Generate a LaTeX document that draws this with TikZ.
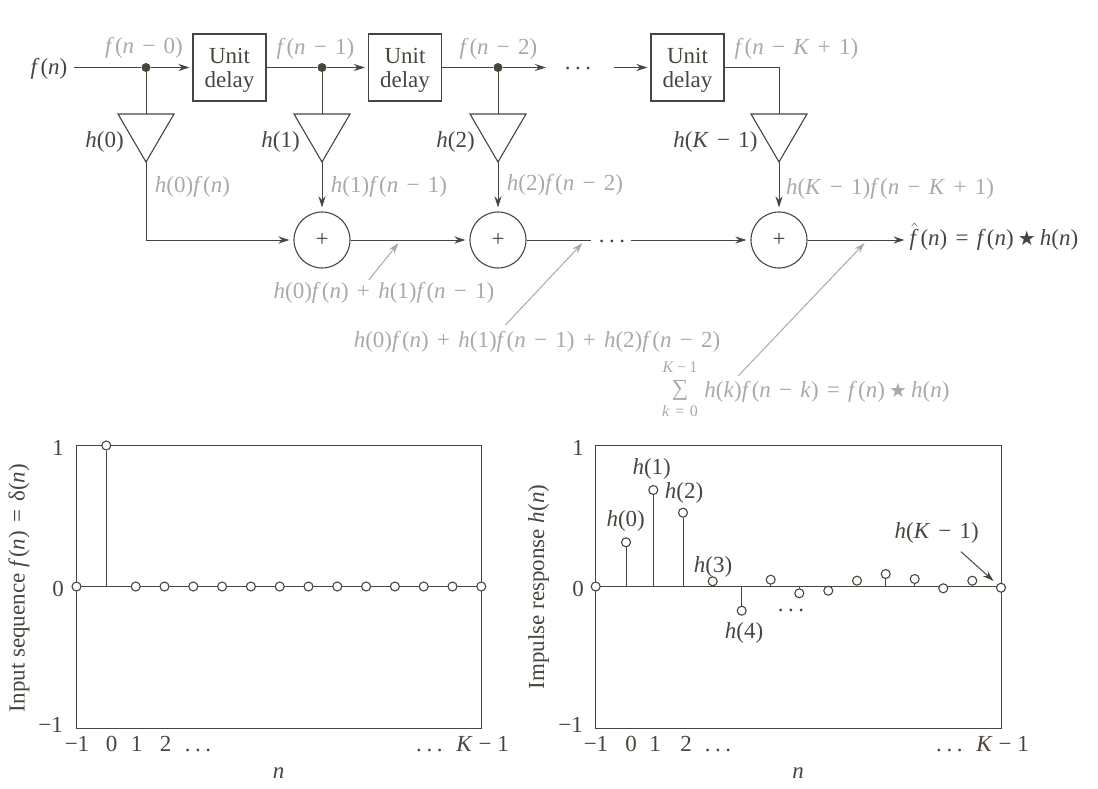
\documentclass[tikz,border=0pt]{standalone}
\usepackage{fontspec}
\setmainfont{Liberation Serif}
\newfontfamily\starfont{DejaVu Sans}
\usetikzlibrary{arrows.meta}
\definecolor{inkdark}{HTML}{4A443E}
\definecolor{inkgray}{HTML}{ABA9A5}
\newcommand{\vh}{\textit{h}}
\newcommand{\vf}{\textit{f}\kern.04em}
\newcommand{\vn}{\textit{n}}
\newcommand{\vK}{\textit{K}}
\newcommand{\vk}{\textit{k}}
\newcommand{\mns}{\kern.36em−\kern.36em}
\newcommand{\pls}{\kern.36em+\kern.36em}
\newcommand{\eqs}{\kern.36em=\kern.36em}
\newcommand{\tdots}{.\hspace{.2em}.\hspace{.2em}.}
\newcommand{\conv}{\kern.18em{\starfont\fontsize{20}{20}\selectfont ★}\kern.18em}
\newcommand{\unitdelay}{\rule{0pt}{20pt}Unit\\delay}
\tikzset{
	txt/.style={inner sep=0pt,text=inkdark,text height=19pt,text depth=4pt},
	graytxt/.style={inner sep=0pt,text=inkgray,text height=19pt,text depth=4pt},
	smalltxt/.style={inner sep=0pt,text=inkgray,font=\fontsize{16}{17}\selectfont},
	wire/.style={draw=inkdark,line width=1pt},
	flow/.style={wire,->},
	note/.style={draw=inkgray,line width=1pt,->},
	delaybox/.style={draw=inkdark,line width=1.1pt,minimum width=73pt,minimum height=67pt,inner sep=0pt,align=center,text=inkdark},
	junction/.style={circle,fill=inkdark,inner sep=0pt,minimum size=9pt},
	adder/.style={circle,draw=inkdark,line width=1.1pt,inner sep=0pt,minimum size=56pt,text=inkdark},
	sample/.style={circle,draw=inkdark,fill=white,line width=1.1pt,inner sep=0pt,minimum size=9pt},
}
\newcommand{\drawgain}[3]{
	% #1 name, #2 centre x, #3 half width
	\coordinate (#1t) at (#2,114);
	\coordinate (#1a) at (#2,162);
	\draw[wire,line width=1.1pt,line join=miter] (#2-#3,114) -- (#2+#3,114) -- (#1a) -- cycle;
}
\begin{document}
\begin{tikzpicture}[x=1pt,y=-1pt,>={Stealth[length=11pt,width=7pt]},font=\fontsize{23}{24}\selectfont]
	\useasboundingbox (0,0) rectangle (1098,789);
	% Top row
	\node[txt] (fin) at (49,67.5) {\vf(\vn)};
	\node[junction] (j1) at (146,67.5) {};
	\node[delaybox] (d1) at (229.5,67.5) {\unitdelay};
	\node[junction] (j2) at (322,67.5) {};
	\node[delaybox] (d2) at (405,67.5) {\unitdelay};
	\node[junction] (j3) at (498,67.5) {};
	\node[txt] (topdots) at (578,62) {\tdots};
	\node[delaybox] (d3) at (687.5,67.5) {\unitdelay};
	\coordinate (topa) at (546,67.5);
	\coordinate (topb) at (614,67.5);
	\coordinate (topc) at (779,67.5);
	% Gains
	\drawgain{g1}{146}{28}
	\drawgain{g2}{322}{28}
	\drawgain{g3}{498}{28}
	\drawgain{g4}{779}{28}
	\node[txt] (lg1) at (104.5,140) {\vh(0)};
	\node[txt] (lg2) at (280.5,140) {\vh(1)};
	\node[txt] (lg3) at (455.5,140) {\vh(2)};
	\node[txt] (lg4) at (715.5,140) {\vh(\vK\mns1)};
	% Adders
	\node[adder] (s1) at (322,240) {+};
	\node[adder] (s2) at (498,240) {+};
	\node[adder] (s3) at (779,240) {+};
	\node[txt] (sumdots) at (612,234.5) {\tdots};
	\coordinate (suma) at (591,240);
	\coordinate (sumb) at (631,240);
	\node[txt,anchor=west] (fout) at (909.5,238) {$\hat{\mbox{\vf}}$\kern.04em(\vn)\eqs\vf(\vn)\conv\vh(\vn)};
	% Connections
	\draw[wire,shorten <=6pt] (fin) -- (j1);
	\draw[flow,shorten >=3pt] (j1) -- (d1);
	\draw[wire] (d1) -- (j2);
	\draw[flow,shorten >=3pt] (j2) -- (d2);
	\draw[wire] (d2) -- (j3);
	\draw[flow] (j3) -- (topa);
	\draw[flow,shorten >=3pt] (topb) -- (d3);
	\draw[wire] (d3) -- (topc) -- (g4t);
	\draw[wire] (j1) -- (g1t);
	\draw[wire] (j2) -- (g2t);
	\draw[wire] (j3) -- (g3t);
	\draw[flow,shorten >=4pt] (g1a) |- (s1);
	\draw[flow,shorten >=4pt] (g2a) -- (s1);
	\draw[flow,shorten >=4pt] (g3a) -- (s2);
	\draw[flow,shorten >=4pt] (g4a) -- (s3);
	\draw[flow,shorten >=4pt] (s1) -- (s2);
	\draw[wire] (s2) -- (suma);
	\draw[flow,shorten >=4pt] (sumb) -- (s3);
	\draw[flow,shorten >=5pt] (s3) -- (s3 -| fout.west);
	% Signal labels
	\node[graytxt] (l1) at (144,46) {\vf(\vn\mns0)};
	\node[graytxt] (l2) at (315.5,47) {\vf(\vn\mns1)};
	\node[graytxt] (l3) at (498.5,47) {\vf(\vn\mns2)};
	\node[graytxt] (l4) at (796.5,47) {\vf(\vn\mns\vK\pls1)};
	\node[graytxt] (l5) at (192.5,185) {\vh(0)\vf(\vn)};
	\node[graytxt] (l6) at (389,185) {\vh(1)\vf(\vn\mns1)};
	\node[graytxt] (l7) at (565,183) {\vh(2)\vf(\vn\mns2)};
	\node[graytxt] (l8) at (890,187) {\vh(\vK\mns1)\vf(\vn\mns\vK\pls1)};
	\node[graytxt] (l9) at (384,291) {\vh(0)\vf(\vn)\pls\vh(1)\vf(\vn\mns1)};
	\node[graytxt] (l10) at (537,340) {\vh(0)\vf(\vn)\pls\vh(1)\vf(\vn\mns1)\pls\vh(2)\vf(\vn\mns2)};
	\node[graytxt] (l11) at (827,390) {\vh(\vk)\vf(\vn\mns\vk)\eqs\vf(\vn)\conv\vh(\vn)};
	\node[graytxt] (lsum) at (680,388) {∑};
	\node[smalltxt] (ltop) at (680,367) {\vK\kern.2em−\kern.2em1};
	\node[smalltxt] (lbot) at (680,411) {\vk\eqs0};
	\coordinate (n1a) at (368.7,280);
	\coordinate (n1b) at (398.5,243);
	\coordinate (n2a) at (505.4,325);
	\coordinate (n2b) at (582.5,243);
	\coordinate (n3a) at (738.4,375.7);
	\coordinate (n3b) at (864.6,243);
	\draw[note] (n1a) -- (n1b);
	\draw[note] (n2a) -- (n2b);
	\draw[note] (n3a) -- (n3b);
	% Left plot
	\draw[wire,line width=1.1pt] (76.5,445.5) rectangle (481.5,728.5);
	\coordinate (aL) at (76.5,586.5);
	\coordinate (bL) at (481.5,586.5);
	\draw[wire] (aL) -- (bL);
	\node[sample] (pa) at (76.5,586.5) {};
	\node[sample] (pb) at (106.3,445.5) {};
	\coordinate (pbz) at (106.3,586.5);
	\draw[wire] (pb) -- (pbz);
	\foreach \i in {0,...,12}
		\node[sample] (q\i) at (135.7+\i*28.8,586.5) {};
	\node[txt] (yl1) at (58,448) {1};
	\node[txt] (yl2) at (58,589) {0};
	\node[txt,anchor=east] (yl3) at (63,725) {−1};
	\foreach \lab/\px [count=\i] in {−1/77,0/111.7,1/136.7,2/165.7,\tdots/198,\tdots\kern.6em\vK\kern.25em−\kern.25em1/462.5}
		\node[txt] (xl\i) at (\px,744) {\lab};
	\node[txt] (xn) at (278.7,771) {\vn};
	\node[txt,rotate=90] (yn) at (17,588) {Input sequence \vf(\vn)\eqs δ(\vn)};
	% Right plot
	\draw[wire,line width=1.1pt] (595.5,445.5) rectangle (1001.5,728.5);
	\coordinate (aR) at (595.5,586.5);
	\coordinate (bR) at (1001.5,586.5);
	\draw[wire] (aR) -- (bR);
	% samples with a stem
	\foreach \px/\py [count=\i] in {626/542.3,653.3/490,683/512.7,712.7/581.3,741.7/610.7,770.7/579.7,799.3/593.3,857/580.7,885.7/574,914.7/579,972.3/580.7}{
		\node[sample] (r\i) at (\px,\py) {};
		\coordinate (rz\i) at (\px,586.5);
		\draw[wire] (r\i) -- (rz\i);
	}
	% samples sitting on the axis
	\foreach \px/\py [count=\i] in {595.7/586.5,828.3/590.7,943.3/588.3,1001/587.7}
		\node[sample] (t\i) at (\px,\py) {};
	\node[txt] (yr1) at (578,448) {1};
	\node[txt] (yr2) at (578,589) {0};
	\node[txt,anchor=east] (yr3) at (583,725) {−1};
	\foreach \lab/\px [count=\i] in {−1/596,0/631,1/655,2/686,\tdots/718,\tdots\kern.6em\vK\kern.25em−\kern.25em1/982.5}
		\node[txt] (xr\i) at (\px,744) {\lab};
	\node[txt] (xm) at (798,771) {\vn};
	\node[txt,rotate=90] (ym) at (536.5,587) {Impulse response \vh(\vn)};
	\node[txt] (lh0) at (625.7,519) {\vh(0)};
	\node[txt] (lh1) at (651.7,467) {\vh(1)};
	\node[txt] (lh2) at (684,491) {\vh(2)};
	\node[txt] (lh3) at (713,565) {\vh(3)};
	\node[txt] (lh4) at (744,631) {\vh(4)};
	\node[txt] (lhd) at (791,603.5) {\tdots};
	\node[txt] (lhk) at (936.7,531) {\vh(\vK\mns1)};
	\coordinate (ka) at (961,551.7);
	\draw[flow,shorten >=5pt] (ka) -- (t4);
\end{tikzpicture}
\end{document}
